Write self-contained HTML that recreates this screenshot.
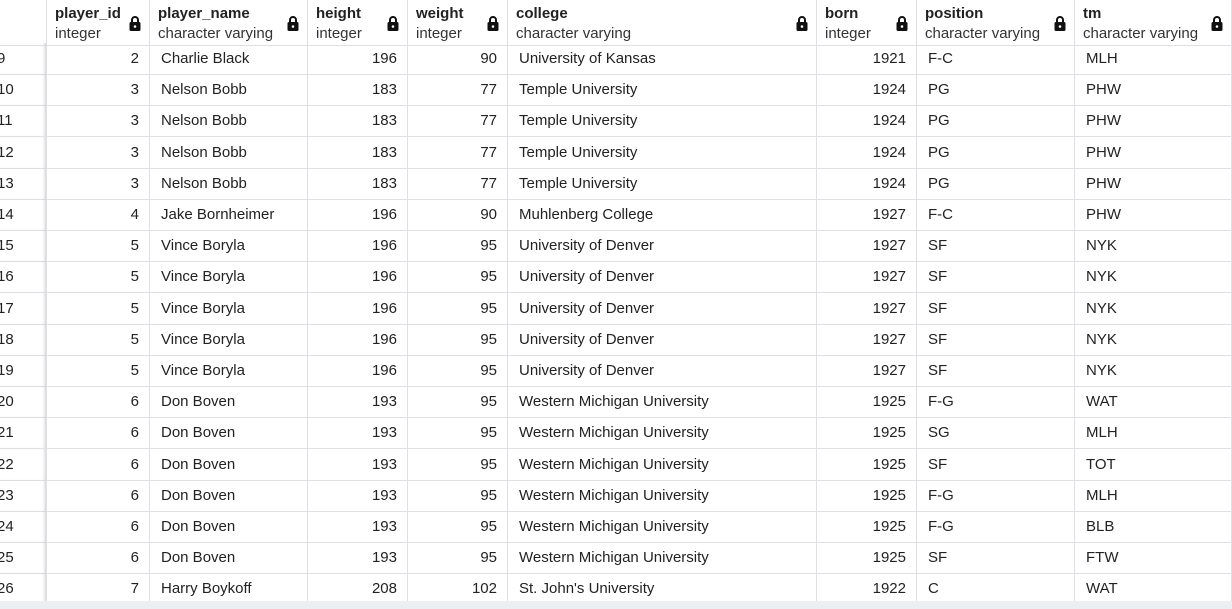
<!DOCTYPE html>
<html><head><meta charset="utf-8"><style>
body{margin:0;width:1232px;height:609px;overflow:hidden;background:#fff;font-family:"Liberation Sans",sans-serif;color:#222;position:relative}
.hd{position:absolute;top:0;height:46px;border-right:1px solid #dde0e6;box-sizing:border-box;border-bottom:1px solid #dde0e6}
.hd b{position:absolute;left:8px;top:5px;font-size:15px;font-weight:bold;color:#222}
.hd span{position:absolute;left:8px;top:25px;font-size:15px;color:#333}
.lock{position:absolute;right:8px;top:15px;width:12px;height:16px}
.c{position:absolute;height:32px;line-height:31px;font-size:15px;box-sizing:border-box;border-right:1px solid #dde0e6;border-bottom:1px solid #dde0e6;padding:0 10px 0 11px;white-space:nowrap;overflow:hidden}
.r{text-align:right}
</style></head><body>
<div id="t"></div>
<div style="position:absolute;left:0;top:601px;width:1232px;height:8px;background:#eceef2"></div>
<script>
const cols=[["",0,47],["player_id",47,150,"integer"],["player_name",150,308,"character varying"],["height",308,408,"integer"],["weight",408,508,"integer"],["college",508,817,"character varying"],["born",817,917,"integer"],["position",917,1075,"character varying"],["tm",1075,1232,"character varying"]];
const rows=[
[9,2,"Charlie Black",196,90,"University of Kansas",1921,"F-C","MLH"],
[10,3,"Nelson Bobb",183,77,"Temple University",1924,"PG","PHW"],
[11,3,"Nelson Bobb",183,77,"Temple University",1924,"PG","PHW"],
[12,3,"Nelson Bobb",183,77,"Temple University",1924,"PG","PHW"],
[13,3,"Nelson Bobb",183,77,"Temple University",1924,"PG","PHW"],
[14,4,"Jake Bornheimer",196,90,"Muhlenberg College",1927,"F-C","PHW"],
[15,5,"Vince Boryla",196,95,"University of Denver",1927,"SF","NYK"],
[16,5,"Vince Boryla",196,95,"University of Denver",1927,"SF","NYK"],
[17,5,"Vince Boryla",196,95,"University of Denver",1927,"SF","NYK"],
[18,5,"Vince Boryla",196,95,"University of Denver",1927,"SF","NYK"],
[19,5,"Vince Boryla",196,95,"University of Denver",1927,"SF","NYK"],
[20,6,"Don Boven",193,95,"Western Michigan University",1925,"F-G","WAT"],
[21,6,"Don Boven",193,95,"Western Michigan University",1925,"SG","MLH"],
[22,6,"Don Boven",193,95,"Western Michigan University",1925,"SF","TOT"],
[23,6,"Don Boven",193,95,"Western Michigan University",1925,"F-G","MLH"],
[24,6,"Don Boven",193,95,"Western Michigan University",1925,"F-G","BLB"],
[25,6,"Don Boven",193,95,"Western Michigan University",1925,"SF","FTW"],
[26,7,"Harry Boykoff",208,102,"St. John's University",1922,"C","WAT"]];
const right=[false,true,false,true,true,false,true,false,false];
const t=document.getElementById('t');
let h='';
cols.forEach((c,i)=>{
 h+=`<div class="hd" style="left:${c[1]}px;width:${c[2]-c[1]}px">`;
 if(c[0]) h+=`<b>${c[0]}</b><span>${c[3]}</span><svg class="lock" viewBox="0 0 12 16"><path d="M3 7V5a3 3 0 0 1 6 0v2" fill="none" stroke="#111" stroke-width="2"/><rect x="0.5" y="7" width="11" height="9" rx="1.5" fill="#111"/><circle cx="6" cy="11.5" r="1.3" fill="#fff"/></svg>`;
 h+='</div>';
});
rows.forEach((r,ri)=>{
 const top=Math.round(43+ri*31.2);
 r.forEach((v,ci)=>{
  const c=cols[ci];
  const st=ci==0?'padding:0;text-indent:-3px;box-shadow:inset -3px 0 3px -2px #ccc;':'';
  h+=`<div class="c${right[ci]?' r':''}" style="left:${c[1]}px;width:${c[2]-c[1]}px;top:${top}px;${st}">${v}</div>`;
 });
});
t.innerHTML=h;
</script>
</body></html>
